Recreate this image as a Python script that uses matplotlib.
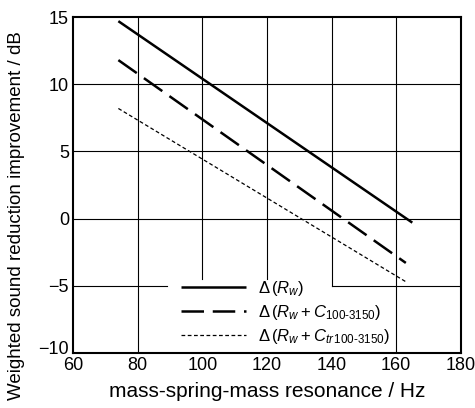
import matplotlib.pyplot as plt
import matplotlib.transforms as mtransforms

plt.rcParams['font.family'] = ['Liberation Sans', 'DejaVu Sans']
plt.rcParams['mathtext.fontset'] = 'custom'
plt.rcParams['mathtext.rm'] = 'Liberation Sans'
plt.rcParams['mathtext.it'] = 'Liberation Sans:italic'

# end points of the three curves (Hz, dB)
f_rw = [74, 165]
d_rw = [14.7, -0.3]
f_c = [74, 163]
d_c = [11.8, -3.3]
f_ctr = [74, 163]
d_ctr = [8.2, -4.7]

labels = [r'$\Delta\,(R_w)$',
          r'$\Delta\,(R_w + C_{100\text{-}3150})$',
          r'$\Delta\,(R_w + C_{tr\,100\text{-}3150})$']

xticks = [60, 80, 100, 120, 140, 160, 180]
yticks = [-10, -5, 0, 5, 10, 15]

fig = plt.figure(figsize=(4.75, 4.08), dpi=100)
ax = fig.add_axes([0.154, 0.135, 0.816, 0.823])

# grid lines (partially hidden behind the legend, as in the print)
for x in [80, 160]:
    ax.plot([x, x], [-10, 15], color='black', lw=0.8, zorder=1)
for x in [100, 120]:
    ax.plot([x, x], [-4.5, 15], color='black', lw=0.8, zorder=1)
ax.plot([140, 140], [-5, 15], color='black', lw=0.8, zorder=1)
for y in [0, 5, 10]:
    ax.plot([60, 180], [y, y], color='black', lw=0.8, zorder=1)
ax.plot([60, 89], [-5, -5], color='black', lw=0.8, zorder=1)
ax.plot([140, 180], [-5, -5], color='black', lw=0.8, zorder=1)

l1, = ax.plot(f_rw, d_rw, color='black', lw=1.8, solid_capstyle='butt')
l2, = ax.plot(f_c, d_c, color='black', lw=1.8, dashes=(9, 3.5))
l3, = ax.plot(f_ctr, d_ctr, color='black', lw=0.9, dashes=(3, 2))

ax.legend([l1, l2, l3], labels, loc='lower left', bbox_to_anchor=(0.24, -0.025),
          frameon=False, fontsize=12, handlelength=3.9, handletextpad=0.7,
          labelspacing=0.3)

ax.set_xlim(60, 180)
ax.set_ylim(-10, 15)
ax.set_xticks(xticks)
ax.set_yticks(yticks)
ax.tick_params(length=0, labelsize=13, pad=3)
for s in ax.spines.values():
    s.set_linewidth(1.5)

# the -10 label sits a little above its line in the original
lab = ax.get_yticklabels()[0]
lab.set_transform(lab.get_transform() +
                  mtransforms.ScaledTranslation(0, 4 / 72, fig.dpi_scale_trans))

ax.set_xlabel('mass-spring-mass resonance / Hz', fontsize=15, labelpad=6)
ax.set_ylabel('Weighted sound reduction improvement / dB', fontsize=13.5)
ax.yaxis.set_label_coords(-0.125, 0.41)

fig.savefig('out.png', dpi=100)
